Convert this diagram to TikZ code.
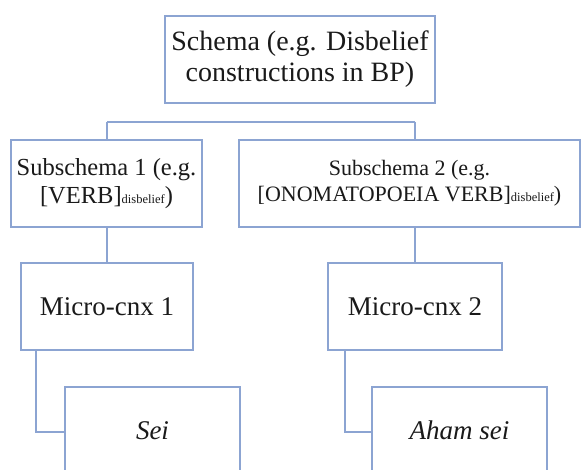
\documentclass[tikz,border=0pt]{standalone}
\usepackage{fontspec}
\setmainfont{Liberation Serif}
\usetikzlibrary{calc,backgrounds}
\definecolor{boxline}{HTML}{8CA4D2}
\definecolor{txt}{HTML}{1A1A1A}
\newcommand{\sbs}[1]{{\fontsize{12.5}{12.5}\selectfont #1}}
\tikzset{
  box/.style={draw=boxline, line width=1.8pt, fill=white, text=txt,
    align=center, inner sep=0pt, anchor=center},
  link/.style={draw=boxline, line width=1.9pt}
}
\begin{document}
\begin{tikzpicture}[x=1pt, y=-1pt]
  \useasboundingbox (0,0) rectangle (582,470);
  % top level schema
  \node[box, minimum width=270pt, minimum height=87pt,
        font=\fontsize{28}{31}\selectfont] (top) at (300,59.5)
        {Schema (e.g. Disbelief\\constructions in BP)};
  % subschemas
  \node[box, minimum width=191pt, minimum height=87pt,
        font=\fontsize{24.5}{28}\selectfont] (sub1) at (106.5,183.5)
        {Subschema 1 (e.g.\\{}[VERB]\sbs{disbelief})};
  \node[box, minimum width=341pt, minimum height=87pt,
        font=\fontsize{22}{26}\selectfont] (sub2) at (409.5,183.5)
        {Subschema 2 (e.g.\\{}[ONOMATOPOEIA VERB]\sbs{disbelief})};
  % micro-constructions
  \node[box, minimum width=172pt, minimum height=87pt,
        font=\fontsize{27}{30}\selectfont] (m1) at (107,306.5) {Micro-cnx 1};
  \node[box, minimum width=174pt, minimum height=87pt,
        font=\fontsize{27}{30}\selectfont] (m2) at (415,306.5) {Micro-cnx 2};
  % instances
  \node[box, minimum width=175pt, minimum height=87pt,
        font=\fontsize{27}{30}\selectfont\itshape] (sei) at (152.5,430.5) {Sei};
  \node[box, minimum width=175pt, minimum height=87pt,
        font=\fontsize{27}{30}\selectfont\itshape] (aham) at (459.5,430.5) {Aham sei};
  % tree connectors, kept behind the boxes
  \begin{scope}[on background layer]
    \coordinate (bus) at (0,122);
    \draw[link] ($(top.south)+(2,0)$) -- ($(top.south)+(2,0)$ |- bus);
    \draw[link] (m1.north |- bus) -- (m2.north |- bus);
    \draw[link] (m1.north |- bus) -- (m1.north);
    \draw[link] (m2.north |- bus) -- (m2.north);
    \coordinate (d1) at ($(m1.south west)+(16,0)$);
    \coordinate (d2) at ($(m2.south west)+(18,0)$);
    \draw[link] (d1) |- ($(sei.west)+(0,1.5)$);
    \draw[link] (d2) |- ($(aham.west)+(0,1.5)$);
  \end{scope}
\end{tikzpicture}
\end{document}
